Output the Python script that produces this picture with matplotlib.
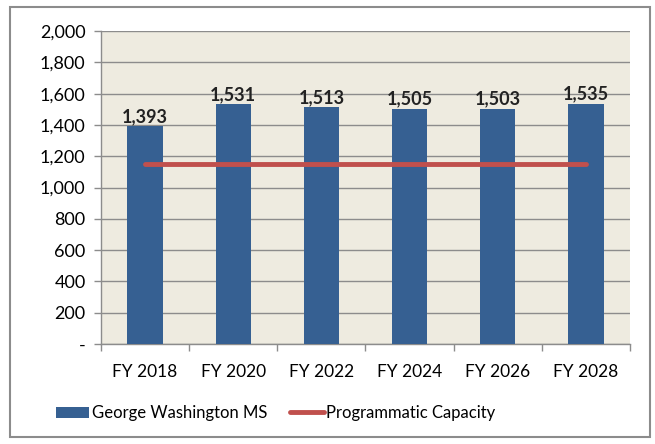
import matplotlib.pyplot as plt
from matplotlib.patches import Rectangle
from matplotlib.ticker import FuncFormatter

plt.rcParams['font.family'] = ['Lato', 'DejaVu Sans']

# data
years = ['FY 2018', 'FY 2020', 'FY 2022', 'FY 2024', 'FY 2026', 'FY 2028']
enrollment = [1393, 1531, 1513, 1505, 1503, 1535]
capacity = [1150, 1150, 1150, 1150, 1150, 1150]

bar_color = '#366092'
line_color = '#C0504D'
grid_color = '#8C8C8C'

fig = plt.figure(figsize=(6.55, 4.44), dpi=100)
ax = fig.add_axes([0.154, 0.225, 0.808, 0.705])
ax.set_facecolor('#EEEBE0')

x = list(range(len(years)))
bars = ax.bar(x, enrollment, width=0.4, color=bar_color, zorder=3,
              label='George Washington MS')
line, = ax.plot(x, capacity, color=line_color, linewidth=3.5, solid_capstyle='round',
                zorder=4, label='Programmatic Capacity')

# data labels
for xi, v in zip(x, enrollment):
    ax.text(xi, v + 8, f'{v:,}', ha='center', va='bottom',
            fontsize=13, fontweight='bold', color='#222222', zorder=5)

ax.set_xlim(-0.5, len(years) - 0.5)
ax.set_ylim(0, 2000)
ax.set_yticks(range(0, 2001, 200))
ax.yaxis.set_major_formatter(FuncFormatter(lambda v, p: '-' if v == 0 else f'{int(v):,}'))
ax.set_xticks(x)
ax.set_xticklabels(years)
ax.set_xticks([i - 0.5 for i in range(len(years) + 1)], minor=True)
ax.tick_params(axis='x', which='major', length=0, pad=14, labelsize=12.5)
ax.tick_params(axis='x', which='minor', length=5, color=grid_color, width=1)
ax.tick_params(axis='y', length=5, color=grid_color, width=1, labelsize=13, pad=6)

ax.grid(axis='y', color=grid_color, linewidth=1, zorder=0)
ax.set_axisbelow(True)
for s in ['top', 'right']:
    ax.spines[s].set_visible(False)
for s in ['left', 'bottom']:
    ax.spines[s].set_color(grid_color)
    ax.spines[s].set_linewidth(1)

ax.legend(handles=[bars, line], loc='center', bbox_to_anchor=(0.33, -0.22),
          ncol=2, frameon=False, fontsize=12, handlelength=2.0, handleheight=0.65,
          handletextpad=0.15, columnspacing=1.4)

# outer border
fig.patches.append(Rectangle((10 / 655, 7 / 444), 640 / 655, 430 / 444,
                             transform=fig.transFigure, fill=False,
                             edgecolor='#8C8C8C', linewidth=1.5))

fig.savefig('out.png', dpi=100)
